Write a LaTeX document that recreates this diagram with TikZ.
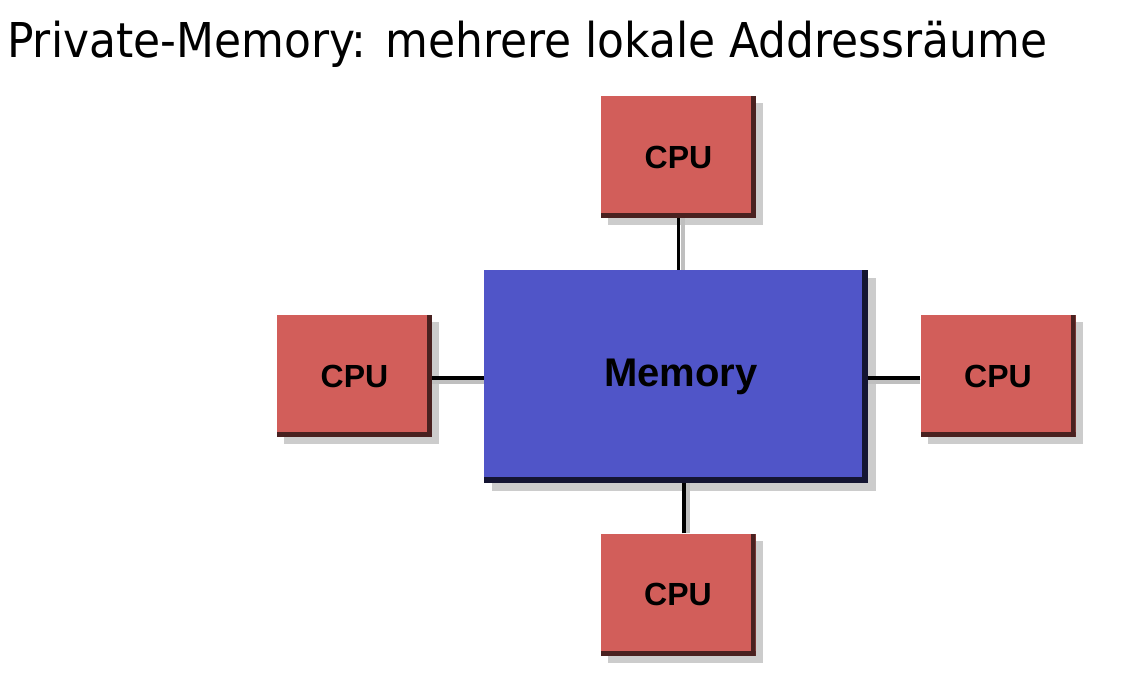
\documentclass[tikz,border=0pt]{standalone}
\usepackage{fontspec}
\setsansfont{Liberation Sans}
\newfontfamily\titlefont{DejaVu Sans}
\usepackage{xcolor}
\usepackage{tikz}
\usetikzlibrary{shapes,positioning,calc,shadows}
\definecolor{cpured}{RGB}{210, 94, 90}
\definecolor{memblue}{RGB}{80, 85, 200}

\begin{document}
\begin{tikzpicture}[
    x=1pt, y=-1pt,
    cpu/.style={rectangle, fill=cpured, minimum width=155pt, minimum height=122pt, inner sep=0pt, font={\fontsize{32}{34}\selectfont\sffamily\bfseries}, drop shadow={shadow xshift=7pt, shadow yshift=-7pt, opacity=0.4},
        path picture={\fill[cpured!35!black] (path picture bounding box.south west) rectangle ([yshift=5pt]path picture bounding box.south east);
                      \fill[cpured!35!black] ([xshift=-5pt]path picture bounding box.south east) rectangle (path picture bounding box.north east);}},
    mem/.style={rectangle, fill=memblue, minimum width=384pt, minimum height=213pt, inner sep=0pt, font={\fontsize{40}{42}\selectfont\sffamily\bfseries}, drop shadow={shadow xshift=8pt, shadow yshift=-8pt, opacity=0.4},
        path picture={\fill[memblue!25!black] (path picture bounding box.south west) rectangle ([yshift=6pt]path picture bounding box.south east);
                      \fill[memblue!25!black] ([xshift=-6pt]path picture bounding box.south east) rectangle (path picture bounding box.north east);}},
    vlink/.style={draw=black, line width=3.5pt, preaction={draw=black!25, line width=4pt, transform canvas={shift={(4pt,0pt)}}}},
    hlink/.style={draw=black, line width=3.5pt, preaction={draw=black!25, line width=4pt, transform canvas={shift={(0pt,-4pt)}}}}
]
\useasboundingbox (0,0) rectangle (1130,692);

% ═══════════════════════════════════════════════════════════════
% Title
% ═══════════════════════════════════════════════════════════════
\node[anchor=base west, inner sep=0pt] (title) at (7,58) {\resizebox{1040pt}{\height}{\titlefont\fontsize{48}{50}\selectfont Private-Memory: mehrere lokale Addressräume}};

% ═══════════════════════════════════════════════════════════════
% Memory and the four CPUs
% ═══════════════════════════════════════════════════════════════
\node[mem] (mem) at (676,376.5) {\hspace*{10pt}Memory};

\node[cpu] (cpuN) at (678.5,157) {CPU};
\node[cpu] (cpuS) at (678,594.5) {CPU};
\node[cpu] (cpuW) at (354.5,376) {CPU};
\node[cpu] (cpuE) at (998,376) {CPU};

% Links
\draw[vlink] (cpuN.south) -- (cpuN.south |- mem.north);
\draw[vlink] ([xshift=6pt]cpuS.north) -- ([xshift=6pt]cpuS.north |- mem.south);
\draw[hlink] ([yshift=-2pt]cpuW.east) -- ([yshift=-2pt]cpuW.east -| mem.west);
\draw[hlink] ([yshift=-2pt]cpuE.west) -- ([yshift=-2pt]cpuE.west -| mem.east);

\end{tikzpicture}
\end{document}
